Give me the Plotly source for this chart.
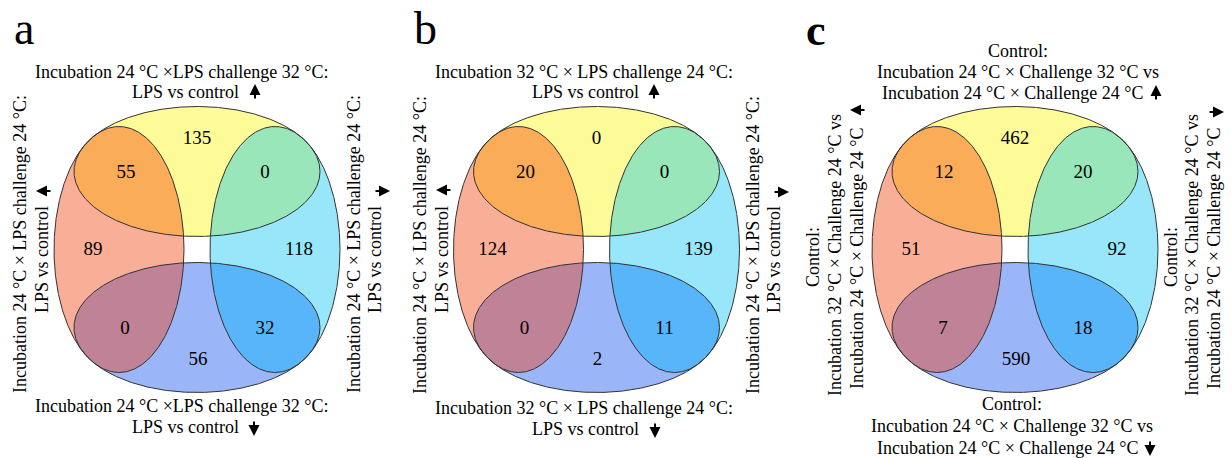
import numpy as np
import plotly.graph_objects as go

# ---------------- data ----------------
panel_letters = ["a", "b", "c"]
region_names = ["top", "top_left", "top_right", "left", "right", "bottom_left", "bottom_right", "bottom"]
counts_a = [135, 55, 0, 89, 118, 0, 32, 56]
counts_b = [0, 20, 0, 124, 139, 0, 11, 2]
counts_c = [462, 12, 20, 51, 92, 7, 18, 590]

labels_a_top = ["Incubation 24 °C ×LPS challenge 32 °C:", "LPS vs control"]
labels_a_bottom = ["Incubation 24 °C ×LPS challenge 32 °C:", "LPS vs control"]
labels_a_left = ["Incubation 24 °C × LPS challenge 24 °C:", "LPS vs control"]
labels_a_right = ["Incubation 24 °C × LPS challenge 24 °C:", "LPS vs control"]

labels_b_top = ["Incubation 32 °C × LPS challenge 24 °C:", "LPS vs control"]
labels_b_bottom = ["Incubation 32 °C × LPS challenge 24 °C:", "LPS vs control"]
labels_b_left = ["Incubation 24 °C × LPS challenge 24 °C:", "LPS vs control"]
labels_b_right = ["Incubation 24 °C × LPS challenge 24 °C:", "LPS vs control"]

labels_c_top = ["Control:", "Incubation 24 °C × Challenge 32 °C vs", "Incubation 24 °C × Challenge 24 °C"]
labels_c_bottom = ["Control:", "Incubation 24 °C × Challenge 32 °C vs", "Incubation 24 °C × Challenge 24 °C"]
labels_c_left = ["Control:", "Incubation 32 °C × Challenge 24 °C vs", "Incubation 24 °C × Challenge 24 °C"]
labels_c_right = ["Control:", "Incubation 32 °C × Challenge 24 °C vs", "Incubation 24 °C × Challenge 24 °C"]

# ---------------- style / geometry ----------------
W, H = 1232, 458
SERIF = "Liberation Serif"
centers = [(197.0, 249.5), (596.5, 249.5), (1015.0, 249.5)]
D, RA, RB = 78.0, 123.0, 65.0  # offset of ellipse centres, long and short radii

col_top = "#FDFB97"
col_left = "#F9AE97"
col_right = "#97E6F9"
col_bottom = "#9BB5F9"
col_tl = "#FAAC59"
col_tr = "#98E6BA"
col_bl = "#C08296"
col_br = "#58B5F9"
EDGE = "#333333"

region_offsets = {
    "top": (0, -110), "top_left": (-71, -76), "top_right": (68, -76),
    "left": (-104, 1), "right": (102, 1),
    "bottom_left": (-72, 80), "bottom_right": (68, 80), "bottom": (1, 111),
}

t = np.linspace(0, 2 * np.pi, 721)


def ellipse(cx, cy, rx, ry):
    return cx + rx * np.cos(t), cy + ry * np.sin(t)


def inside(x, y, e):
    cx, cy, rx, ry = e
    return ((x - cx) / rx) ** 2 + ((y - cy) / ry) ** 2 <= 1.0 + 1e-9


def intersection(e1, e2):
    x1, y1 = ellipse(*e1)
    x2, y2 = ellipse(*e2)
    m1 = inside(x1, y1, e2)
    m2 = inside(x2, y2, e1)
    xs = np.concatenate([x1[m1], x2[m2]])
    ys = np.concatenate([y1[m1], y2[m2]])
    mx, my = xs.mean(), ys.mean()
    order = np.argsort(np.arctan2(ys - my, xs - mx))
    xs, ys = xs[order], ys[order]
    return np.append(xs, xs[0]), np.append(ys, ys[0])


fig = go.Figure()

all_counts = [counts_a, counts_b, counts_c]
for (cx, cy), counts in zip(centers, all_counts):
    e_top = (cx, cy - D, RA, RB)
    e_bottom = (cx, cy + D, RA, RB)
    e_left = (cx - D, cy, RB, RA)
    e_right = (cx + D, cy, RB, RA)
    for e, c in [(e_top, col_top), (e_left, col_left), (e_right, col_right), (e_bottom, col_bottom)]:
        x, y = ellipse(*e)
        fig.add_trace(go.Scatter(x=x, y=y, mode="lines", fill="toself", fillcolor=c,
                                 line=dict(width=0), hoverinfo="skip", showlegend=False))
    for e1, e2, c in [(e_top, e_left, col_tl), (e_top, e_right, col_tr),
                      (e_bottom, e_left, col_bl), (e_bottom, e_right, col_br)]:
        x, y = intersection(e1, e2)
        fig.add_trace(go.Scatter(x=x, y=y, mode="lines", fill="toself", fillcolor=c,
                                 line=dict(width=0), hoverinfo="skip", showlegend=False))
    for e in [e_top, e_left, e_right, e_bottom]:
        x, y = ellipse(*e)
        fig.add_trace(go.Scatter(x=x, y=y, mode="lines", line=dict(color=EDGE, width=1),
                                 hoverinfo="skip", showlegend=False))
    tx = [cx + region_offsets[r][0] for r in region_names]
    ty = [cy + region_offsets[r][1] for r in region_names]
    fig.add_trace(go.Scatter(x=tx, y=ty, mode="text", text=[str(v) for v in counts],
                             textfont=dict(family=SERIF, size=19, color="black"),
                             hoverinfo="skip", showlegend=False))

annotations = []


def txt(x, y, s, size=18, angle=0, family=SERIF, bold=False):
    annotations.append(dict(x=x, y=y, xref="x", yref="y", text=(f"<b>{s}</b>" if bold else s),
                            showarrow=False, xanchor="center", yanchor="middle",
                            textangle=angle, font=dict(family=family, size=size, color="black")))


def arrow(x, y, direction):
    # (x, y) is the centre of the arrow glyph, 16 px long
    half = 8.0
    dx, dy = {"up": (0, -1), "down": (0, 1), "left": (-1, 0), "right": (1, 0)}[direction]
    hx, hy = x + dx * half, y + dy * half
    annotations.append(dict(x=hx, y=hy, xref="x", yref="y", text="", showarrow=True,
                            ax=-dx * 2 * half, ay=-dy * 2 * half, axref="pixel", ayref="pixel",
                            arrowhead=2, arrowsize=1.1, arrowwidth=2, arrowcolor="black"))


# panel letters
txt(24, 28, panel_letters[0], size=46)
txt(425, 28, panel_letters[1], size=46)
txt(816, 30, panel_letters[2], size=44, bold=True)

# panel a
txt(182, 72, labels_a_top[0]); txt(185, 92, labels_a_top[1]); arrow(255, 92, "up")
txt(182, 406, labels_a_bottom[0]); txt(185, 427, labels_a_bottom[1]); arrow(254, 428, "down")
txt(20, 244, labels_a_left[0], angle=-90); txt(42, 260, labels_a_left[1], angle=-90); arrow(44, 191, "left")
txt(354, 244, labels_a_right[0], angle=-90); txt(375, 260, labels_a_right[1], angle=-90); arrow(382, 191, "right")

# panel b
txt(584, 72, labels_b_top[0]); txt(585, 92, labels_b_top[1]); arrow(654, 92, "up")
txt(584, 408, labels_b_bottom[0]); txt(585, 429, labels_b_bottom[1]); arrow(655, 430, "down")
txt(420, 245, labels_b_left[0], angle=-90); txt(442, 260, labels_b_left[1], angle=-90); arrow(444, 190, "left")
txt(753, 245, labels_b_right[0], angle=-90); txt(774, 260, labels_b_right[1], angle=-90); arrow(781, 192, "right")

# panel c
txt(1018, 51, labels_c_top[0]); txt(1018, 72, labels_c_top[1]); txt(1013, 93, labels_c_top[2]); arrow(1156, 93, "up")
txt(1012, 404, labels_c_bottom[0]); txt(1012, 426, labels_c_bottom[1]); txt(1008, 448, labels_c_bottom[2]); arrow(1150, 448, "down")
txt(813, 257, labels_c_left[0], angle=-90); txt(835, 255, labels_c_left[1], angle=-90); txt(857, 258, labels_c_left[2], angle=-90); arrow(858, 110, "left")
txt(1171, 257, labels_c_right[0], angle=-90); txt(1192, 255, labels_c_right[1], angle=-90); txt(1214, 258, labels_c_right[2], angle=-90); arrow(1216, 112, "right")

fig.update_layout(
    width=W, height=H, margin=dict(l=0, r=0, t=0, b=0),
    paper_bgcolor="white", plot_bgcolor="white",
    xaxis=dict(range=[0, W], visible=False, fixedrange=True),
    yaxis=dict(range=[H, 0], visible=False, fixedrange=True),
    annotations=annotations, showlegend=False,
)
fig.write_html("out.html", config={"displayModeBar": False},
               post_script="document.body.style.margin='0';document.body.style.overflow='hidden';")
